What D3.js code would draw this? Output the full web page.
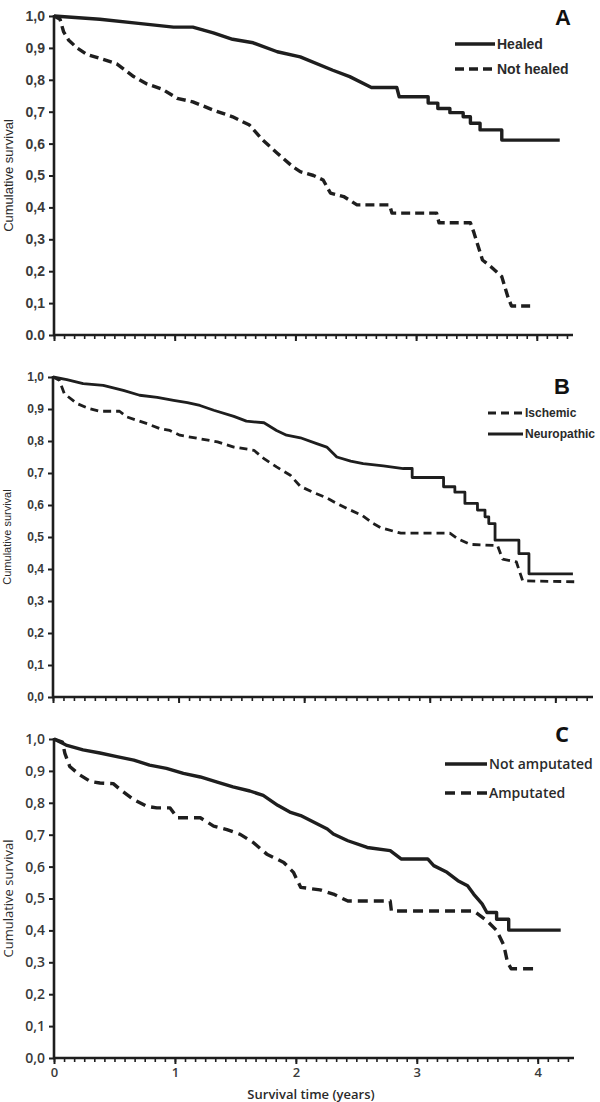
<!DOCTYPE html>
<html>
<head>
<meta charset="utf-8">
<script src="https://cdn.jsdelivr.net/npm/d3@7"></script>
<style>
  body { margin: 0; background: #fff; }
  svg { display: block; }
</style>
</head>
<body>
<div id="chart"></div>
<script>
// survival curves, [years, cumulative survival]
const healed = [[0,1],[0.38,0.99],[0.7,0.977],[0.99,0.965],[1.15,0.965],[1.32,0.947],[1.48,0.927],[1.65,0.916],[1.85,0.888],[2.04,0.872],[2.31,0.83],[2.45,0.81],[2.63,0.776],[2.84,0.776],[2.86,0.747],[3.1,0.747],[3.1,0.727],[3.18,0.727],[3.18,0.71],[3.28,0.71],[3.28,0.697],[3.39,0.697],[3.39,0.684],[3.45,0.684],[3.45,0.664],[3.53,0.664],[3.53,0.643],[3.71,0.643],[3.71,0.611],[4.19,0.611]];
const notHealed = [[0,1],[0.05,0.99],[0.08,0.95],[0.12,0.925],[0.19,0.9],[0.27,0.88],[0.38,0.867],[0.52,0.85],[0.66,0.81],[0.77,0.787],[0.9,0.77],[1.02,0.742],[1.15,0.731],[1.32,0.705],[1.48,0.684],[1.62,0.658],[1.73,0.611],[1.85,0.57],[1.98,0.527],[2.04,0.512],[2.15,0.5],[2.23,0.486],[2.29,0.445],[2.4,0.434],[2.51,0.408],[2.78,0.408],[2.8,0.382],[3.17,0.382],[3.19,0.352],[3.45,0.352],[3.48,0.32],[3.55,0.235],[3.62,0.214],[3.71,0.183],[3.76,0.12],[3.79,0.091],[3.98,0.091]];

const ischemic = [[0,1],[0.05,0.99],[0.09,0.948],[0.19,0.917],[0.29,0.901],[0.37,0.893],[0.53,0.893],[0.59,0.875],[0.75,0.854],[0.85,0.839],[0.93,0.833],[1.01,0.818],[1.17,0.807],[1.31,0.797],[1.44,0.781],[1.6,0.771],[1.68,0.745],[1.78,0.719],[1.89,0.693],[1.97,0.658],[2.07,0.64],[2.18,0.622],[2.26,0.605],[2.34,0.589],[2.46,0.568],[2.55,0.542],[2.61,0.529],[2.77,0.512],[3.16,0.512],[3.22,0.495],[3.32,0.477],[3.54,0.473],[3.58,0.431],[3.69,0.422],[3.74,0.363],[4.18,0.36]];
const neuropathic = [[0,1],[0.11,0.992],[0.24,0.979],[0.4,0.974],[0.56,0.958],[0.69,0.943],[0.83,0.936],[0.96,0.927],[1.07,0.92],[1.17,0.911],[1.28,0.896],[1.44,0.877],[1.54,0.862],[1.68,0.857],[1.78,0.833],[1.86,0.818],[1.97,0.81],[2.1,0.792],[2.18,0.781],[2.26,0.75],[2.37,0.737],[2.47,0.729],[2.63,0.722],[2.79,0.714],[2.86,0.714],[2.86,0.686],[3.11,0.686],[3.11,0.657],[3.2,0.657],[3.2,0.64],[3.28,0.64],[3.28,0.605],[3.38,0.605],[3.38,0.584],[3.44,0.584],[3.44,0.563],[3.47,0.563],[3.47,0.542],[3.52,0.542],[3.52,0.49],[3.71,0.49],[3.71,0.448],[3.79,0.448],[3.79,0.385],[4.14,0.385]];

const notAmputated = [[0,1],[0.1,0.981],[0.24,0.966],[0.38,0.956],[0.52,0.945],[0.66,0.934],[0.79,0.918],[0.93,0.908],[1.07,0.892],[1.21,0.881],[1.35,0.865],[1.48,0.85],[1.62,0.837],[1.73,0.823],[1.85,0.792],[1.95,0.771],[2.04,0.76],[2.15,0.739],[2.26,0.718],[2.31,0.702],[2.43,0.681],[2.59,0.66],[2.78,0.65],[2.87,0.624],[3.09,0.624],[3.14,0.603],[3.25,0.582],[3.34,0.556],[3.42,0.54],[3.47,0.514],[3.54,0.483],[3.58,0.456],[3.66,0.456],[3.66,0.435],[3.76,0.435],[3.76,0.401],[4.19,0.401]];
const amputated = [[0,1],[0.07,0.99],[0.09,0.955],[0.13,0.914],[0.21,0.888],[0.3,0.867],[0.38,0.862],[0.49,0.86],[0.55,0.841],[0.66,0.81],[0.77,0.789],[0.85,0.784],[0.96,0.784],[1.02,0.753],[1.21,0.753],[1.32,0.727],[1.43,0.716],[1.54,0.701],[1.65,0.675],[1.76,0.639],[1.9,0.613],[1.98,0.582],[2.04,0.535],[2.2,0.527],[2.31,0.514],[2.43,0.492],[2.78,0.492],[2.79,0.461],[3.47,0.461],[3.58,0.43],[3.66,0.4],[3.72,0.353],[3.75,0.3],[3.78,0.28],[3.98,0.28]];

const yTicks = [0, 0.1, 0.2, 0.3, 0.4, 0.5, 0.6, 0.7, 0.8, 0.9, 1.0];
const xTicksMajor = [0, 1, 2, 3, 4];
const xMax = 4.3;

const width = 600, height = 1102;
const ink = '#1e1e1e';

const svg = d3.select('#chart').append('svg')
  .attr('width', width)
  .attr('height', height);

// one panel each
const panels = [
  {
    letter: 'A', left: 54, right: 573, top: 16, bottom: 335,
    font: 'Liberation Sans, Arial, sans-serif', tickSize: 14, tickWeight: 700, titleSize: 13, titleX: 13,
    zeroLabel: '0.0', showXLabels: false, lineW: 3.4, dash: '9,5',
    legend: { x1: 455, x2: 495, ys: [44, 69], size: 14, weight: 700 },
    letterPos: [563, 25],
    series: [
      { name: 'Healed', data: healed, dashed: false },
      { name: 'Not healed', data: notHealed, dashed: true }
    ]
  },
  {
    letter: 'B', left: 53, right: 593, top: 377, bottom: 697,
    font: 'Liberation Sans, Arial, sans-serif', tickSize: 12, tickWeight: 700, titleSize: 11, titleX: 11,
    zeroLabel: '0,0', showXLabels: false, lineW: 2.8, dash: '8,5',
    legend: { x1: 488, x2: 523, ys: [413, 434], size: 12, weight: 700 },
    letterPos: [562, 394],
    series: [
      { name: 'Ischemic', data: ischemic, dashed: true },
      { name: 'Neuropathic', data: neuropathic, dashed: false }
    ]
  },
  {
    letter: 'C', left: 54, right: 574, top: 739, bottom: 1058,
    font: 'Open Sans, sans-serif', tickSize: 14, tickWeight: 600, titleSize: 13, titleX: 13,
    zeroLabel: '0,0', showXLabels: true, lineW: 3.4, dash: '10,6',
    legend: { x1: 445, x2: 487, ys: [764, 793], size: 14, weight: 600 },
    letterPos: [562, 742],
    series: [
      { name: 'Not amputated', data: notAmputated, dashed: false },
      { name: 'Amputated', data: amputated, dashed: true }
    ]
  }
];

panels.forEach(p => {
  const g = svg.append('g');

  const x = d3.scaleLinear().domain([0, xMax]).range([p.left, p.right]);
  const y = d3.scaleLinear().domain([0, 1]).range([p.bottom, p.top]);

  // y axis
  const yAxis = d3.axisLeft(y)
    .tickValues(yTicks)
    .tickSize(5)
    .tickPadding(4)
    .tickFormat(d => d === 0 ? p.zeroLabel : d3.format('.1f')(d).replace('.', ','));

  const ya = g.append('g')
    .attr('transform', `translate(${p.left},0)`)
    .call(yAxis);
  ya.select('.domain').remove();
  ya.selectAll('line').attr('stroke', ink).attr('stroke-width', 2);
  ya.selectAll('text')
    .attr('font-family', p.font)
    .attr('font-size', p.tickSize)
    .attr('font-weight', p.tickWeight)
    .attr('fill', '#3a3a3a');

  // x axis minor ticks (months)
  const months = d3.range(0, Math.floor(xMax * 12) + 1).map(m => m / 12);
  const xMinor = d3.axisBottom(x).tickValues(months).tickSize(4).tickFormat('');
  const xm = g.append('g')
    .attr('transform', `translate(0,${p.bottom})`)
    .call(xMinor);
  xm.select('.domain').remove();
  xm.selectAll('line').attr('stroke', ink).attr('stroke-width', 1.6);

  const xMajor = d3.axisBottom(x).tickValues(xTicksMajor).tickSize(6).tickPadding(4)
    .tickFormat(p.showXLabels ? d3.format('d') : '');
  const xa = g.append('g')
    .attr('transform', `translate(0,${p.bottom})`)
    .call(xMajor);
  xa.select('.domain').remove();
  xa.selectAll('line').attr('stroke', ink).attr('stroke-width', 2);
  xa.selectAll('text')
    .attr('font-family', p.font)
    .attr('font-size', 13)
    .attr('font-weight', 600)
    .attr('fill', '#3a3a3a');

  // axis lines
  g.append('line')
    .attr('x1', p.left).attr('x2', p.left)
    .attr('y1', y(1) - 1).attr('y2', p.bottom + 1)
    .attr('stroke', ink).attr('stroke-width', 2.6);
  g.append('line')
    .attr('x1', p.left - 1).attr('x2', p.right)
    .attr('y1', p.bottom).attr('y2', p.bottom)
    .attr('stroke', ink).attr('stroke-width', 2.6);

  // y title
  g.append('text')
    .attr('transform', `translate(${p.titleX},${(p.top + p.bottom) / 2}) rotate(-90)`)
    .attr('text-anchor', 'middle')
    .attr('font-family', p.font)
    .attr('font-size', p.titleSize)
    .attr('fill', '#2a2a2a')
    .text('Cumulative survival');

  // curves
  const line = d3.line()
    .x(d => x(d[0]))
    .y(d => y(d[1]));

  p.series.forEach(s => {
    g.append('path')
      .datum(s.data)
      .attr('d', line)
      .attr('fill', 'none')
      .attr('stroke', ink)
      .attr('stroke-width', p.lineW)
      .attr('stroke-linejoin', 'round')
      .attr('stroke-dasharray', s.dashed ? p.dash : null);
  });

  // legend
  p.series.forEach((s, i) => {
    const ly = p.legend.ys[i];
    g.append('line')
      .attr('x1', p.legend.x1).attr('x2', p.legend.x2)
      .attr('y1', ly).attr('y2', ly)
      .attr('stroke', ink)
      .attr('stroke-width', p.lineW)
      .attr('stroke-dasharray', s.dashed ? p.dash : null);
    g.append('text')
      .attr('x', p.legend.x2 + 2)
      .attr('y', ly)
      .attr('dy', '0.35em')
      .attr('font-family', p.font)
      .attr('font-size', p.legend.size)
      .attr('font-weight', p.legend.weight)
      .attr('fill', '#2a2a2a')
      .text(s.name);
  });

  // panel letter
  g.append('text')
    .attr('x', p.letterPos[0])
    .attr('y', p.letterPos[1])
    .attr('text-anchor', 'middle')
    .attr('font-family', p.font)
    .attr('font-size', 22)
    .attr('font-weight', 700)
    .attr('fill', '#111')
    .text(p.letter);

  if (p.showXLabels) {
    g.append('text')
      .attr('x', 311)
      .attr('y', 1099)
      .attr('text-anchor', 'middle')
      .attr('font-family', p.font)
      .attr('font-size', 13)
      .attr('font-weight', 600)
      .attr('fill', '#2a2a2a')
      .text('Survival time (years)');
  }
});
</script>
</body>
</html>
